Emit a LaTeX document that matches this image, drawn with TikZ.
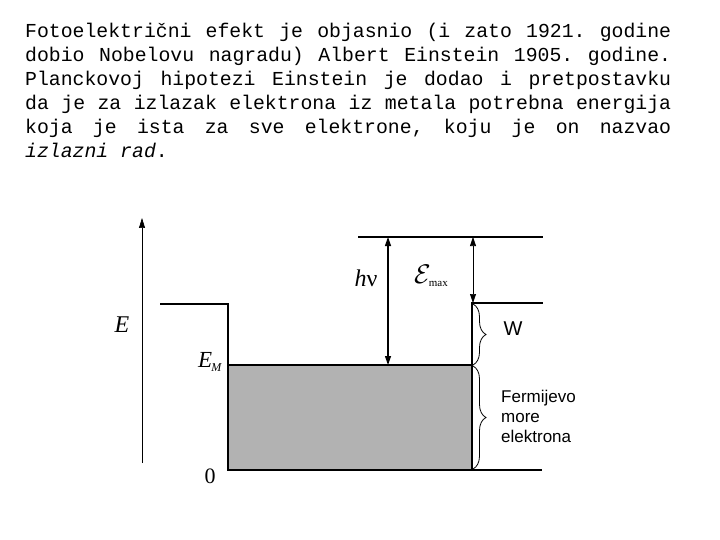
\documentclass[tikz,border=0pt]{standalone}
\usepackage{fontspec}
\setmainfont{Liberation Serif}
\setmonofont{Liberation Mono}
\newfontfamily\arialfont{Liberation Sans}
\usetikzlibrary{arrows.meta,decorations.pathreplacing}
\begin{document}
\begin{tikzpicture}[x=1pt,y=-1pt,
  txt/.style={anchor=base west,inner sep=0pt,font=\ttfamily\fontsize{19.8}{24}\selectfont},
  level/.style={line width=2pt},
  dbl/.style={{Triangle[length=9pt,width=6pt]}-{Triangle[length=9pt,width=6pt]}},
  lab/.style={inner sep=0pt,anchor=base,font=\fontsize{22}{24}\selectfont},
  sans/.style={inner sep=0pt,font=\arialfont\fontsize{17}{20}\selectfont,align=left},
  brc/.style={decorate,decoration={brace,amplitude=13pt},line width=0.8pt}]
\useasboundingbox (0,0) rectangle (720,540);
% text
\node[txt] (l1) at (25,38) {\hbox to 646pt{Fotoelektrični\hfill efekt\hfill je\hfill objasnio\hfill (i\hfill zato\hfill 1921.\hfill godine}};
\node[txt] (l2) at (25,62) {\hbox to 646pt{dobio\hfill Nobelovu\hfill nagradu)\hfill Albert\hfill Einstein\hfill 1905.\hfill godine.}};
\node[txt] (l3) at (25,86) {\hbox to 646pt{Planckovoj\hfill hipotezi\hfill Einstein\hfill je\hfill dodao\hfill i\hfill pretpostavku}};
\node[txt] (l4) at (25,110) {\hbox to 646pt{da\hfill je\hfill za\hfill izlazak\hfill elektrona\hfill iz\hfill metala\hfill potrebna\hfill energija}};
\node[txt] (l5) at (25,134) {\hbox to 646pt{koja\hfill je\hfill ista\hfill za\hfill sve\hfill elektrone,\hfill koju\hfill je\hfill on\hfill nazvao}};
\node[txt] (l6) at (25,158) {\textit{izlazni rad}.};
% coordinates
\coordinate (axb) at (142,463);
\coordinate (axt) at (142,218);
\coordinate (lw) at (160,304);
\coordinate (lc) at (228,304);
\coordinate (bl) at (228,470);
\coordinate (br) at (472,470);
\coordinate (bre) at (542,470);
\coordinate (tl) at (228,365);
\coordinate (tr) at (472,365);
\coordinate (rc) at (472,303);
\coordinate (re) at (543,303);
\coordinate (ts) at (358,237);
\coordinate (te) at (543,237);
\coordinate (hvt) at (388,237);
\coordinate (hvb) at (388,365);
\coordinate (emt) at (473,237);
\coordinate (emb) at (473,303);
% axis
\draw[line width=0.6pt,-{Triangle[length=10pt,width=6pt]}] (axb) -- (axt);
% metal well
\fill[gray!60] (tl) rectangle (br);
\draw[level] (lw) -- (lc) -- (bl) -- (bre);
\draw[level] (tl) -- (tr);
\draw[level] (br) -- (rc) -- (re);
\draw[level] (ts) -- (te);
% arrows
\draw[line width=1.2pt,dbl] (hvt) -- (hvb);
\draw[line width=0.6pt,dbl] (emt) -- (emb);
% braces
\draw[brc] (473,304) -- (473,365);
\draw[brc] (473,366) -- (473,469);
% labels
\node[lab,font=\fontsize{24}{24}\selectfont] (E) at (122,332) {\textit{E}};
\node[lab,font=\fontsize{23}{24}\selectfont] (EM) at (210,367) {\textit{E}\kern-1pt\raisebox{-4pt}{\fontsize{12}{12}\selectfont\textit{M}}};
\node[lab] (z) at (210,483) {0};
\node[lab,font=\fontsize{24}{24}\selectfont] (hv) at (366,286) {\textit{h}ν};
\node[lab,anchor=base west] (em) at (414,283) {\scalebox{1.3}{$\mathcal{E}$}\kern-2pt\raisebox{-3pt}{\fontsize{11}{11}\selectfont max}};
\node[sans,font=\arialfont\fontsize{20}{22}\selectfont] (W) at (513,329) {W};
\node[sans,anchor=west] (F) at (501,416) {Fermijevo\\more\\elektrona};
\end{tikzpicture}
\end{document}
